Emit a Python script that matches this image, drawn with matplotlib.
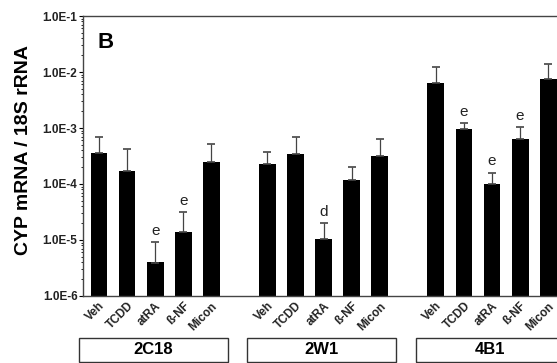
import numpy as np
import matplotlib.pyplot as plt
from matplotlib.patches import Rectangle
from matplotlib import transforms

plt.rcParams['font.family'] = ['Liberation Sans', 'DejaVu Sans']

groups = ['2C18', '2W1', '4B1']
treatments = ['Veh', 'TCDD', 'atRA', 'ß-NF', 'Micon']

# mean values and top of error bar for each group, treatment order as above
means = {
    '2C18': [3.6e-4, 1.7e-4, 3.9e-6, 1.4e-5, 2.5e-4],
    '2W1': [2.3e-4, 3.4e-4, 1.05e-5, 1.2e-4, 3.2e-4],
    '4B1': [6.4e-3, 9.6e-4, 1.0e-4, 6.4e-4, 7.5e-3],
}
upper = {
    '2C18': [6.9e-4, 4.2e-4, 9.2e-6, 3.2e-5, 5.2e-4],
    '2W1': [3.7e-4, 6.9e-4, 2.0e-5, 2.0e-4, 6.3e-4],
    '4B1': [1.23e-2, 1.23e-3, 1.6e-4, 1.04e-3, 1.39e-2],
}
marks = {
    '2C18': ['', '', 'e', 'e', ''],
    '2W1': ['', '', 'd', '', ''],
    '4B1': ['', 'e', 'e', 'e', ''],
}
yticks = [1e-6, 1e-5, 1e-4, 1e-3, 1e-2, 1e-1]
ytick_labels = ['1.0E-6', '1.0E-5', '1.0E-4', '1.0E-3', '1.0E-2', '1.0E-1']

fig = plt.figure(figsize=(5.57, 3.63), dpi=100)
ax = fig.add_axes([0.149, 0.1846, 0.8654, 0.7713])

xpos = []
xlab = []
for gi, g in enumerate(groups):
    x = np.arange(5) + gi * 6
    m = np.array(means[g])
    u = np.array(upper[g])
    ax.bar(x, m, width=0.6, color='black', bottom=1e-7)
    ax.errorbar(x, m, yerr=[np.zeros(5), u - m], fmt='none', ecolor='#444444',
                elinewidth=0.9, capsize=3, capthick=1.2)
    for xi, ui, t in zip(x, u, marks[g]):
        if t:
            ax.annotate(t, (xi, ui), xytext=(0, 3), textcoords='offset points',
                        ha='center', va='bottom', fontsize=11, color='#222222')
    xpos.extend(x)
    xlab.extend(treatments)

ax.set_yscale('log')
ax.set_ylim(1e-6, 1e-1)
ax.set_xlim(-0.57, 16.6)
ax.set_yticks(yticks)
ax.set_yticklabels(ytick_labels, fontsize=8.5, fontweight='bold', color='#222222')
ax.tick_params(axis='y', which='major', length=3, width=0.8, pad=1)
ax.tick_params(axis='y', which='minor', length=1.5, width=0.6)
ax.set_xticks(xpos)
ax.set_xticklabels(xlab, rotation=45, ha='right', rotation_mode='anchor',
                   fontsize=8.5, fontweight='bold', color='#222222')
ax.tick_params(axis='x', length=0, pad=3)
for s in ['left', 'top', 'bottom', 'right']:
    ax.spines[s].set_linewidth(1.0)
    ax.spines[s].set_color('#444444')

ax.set_ylabel('CYP mRNA / 18S rRNA', fontsize=14, fontweight='bold')
ax.yaxis.set_label_coords(-0.105, 0.52)
ax.text(0.031, 0.886, 'B', transform=ax.transAxes, fontsize=16, fontweight='bold',
        ha='left', va='baseline')

# group boxes under the tick labels
trans = transforms.blended_transform_factory(ax.transData, fig.transFigure)
for gi, g in enumerate(groups):
    x0 = gi * 6 - 0.72
    x1 = gi * 6 + 4 + 0.58
    ax.add_patch(Rectangle((x0, 0.003), x1 - x0, 0.066, transform=trans,
                           fill=False, edgecolor='#333333', linewidth=1.0,
                           clip_on=False))
    ax.text((x0 + x1) / 2, 0.036, g, transform=trans, ha='center', va='center',
            fontsize=12, fontweight='bold')

fig.savefig('out.png', dpi=100)
